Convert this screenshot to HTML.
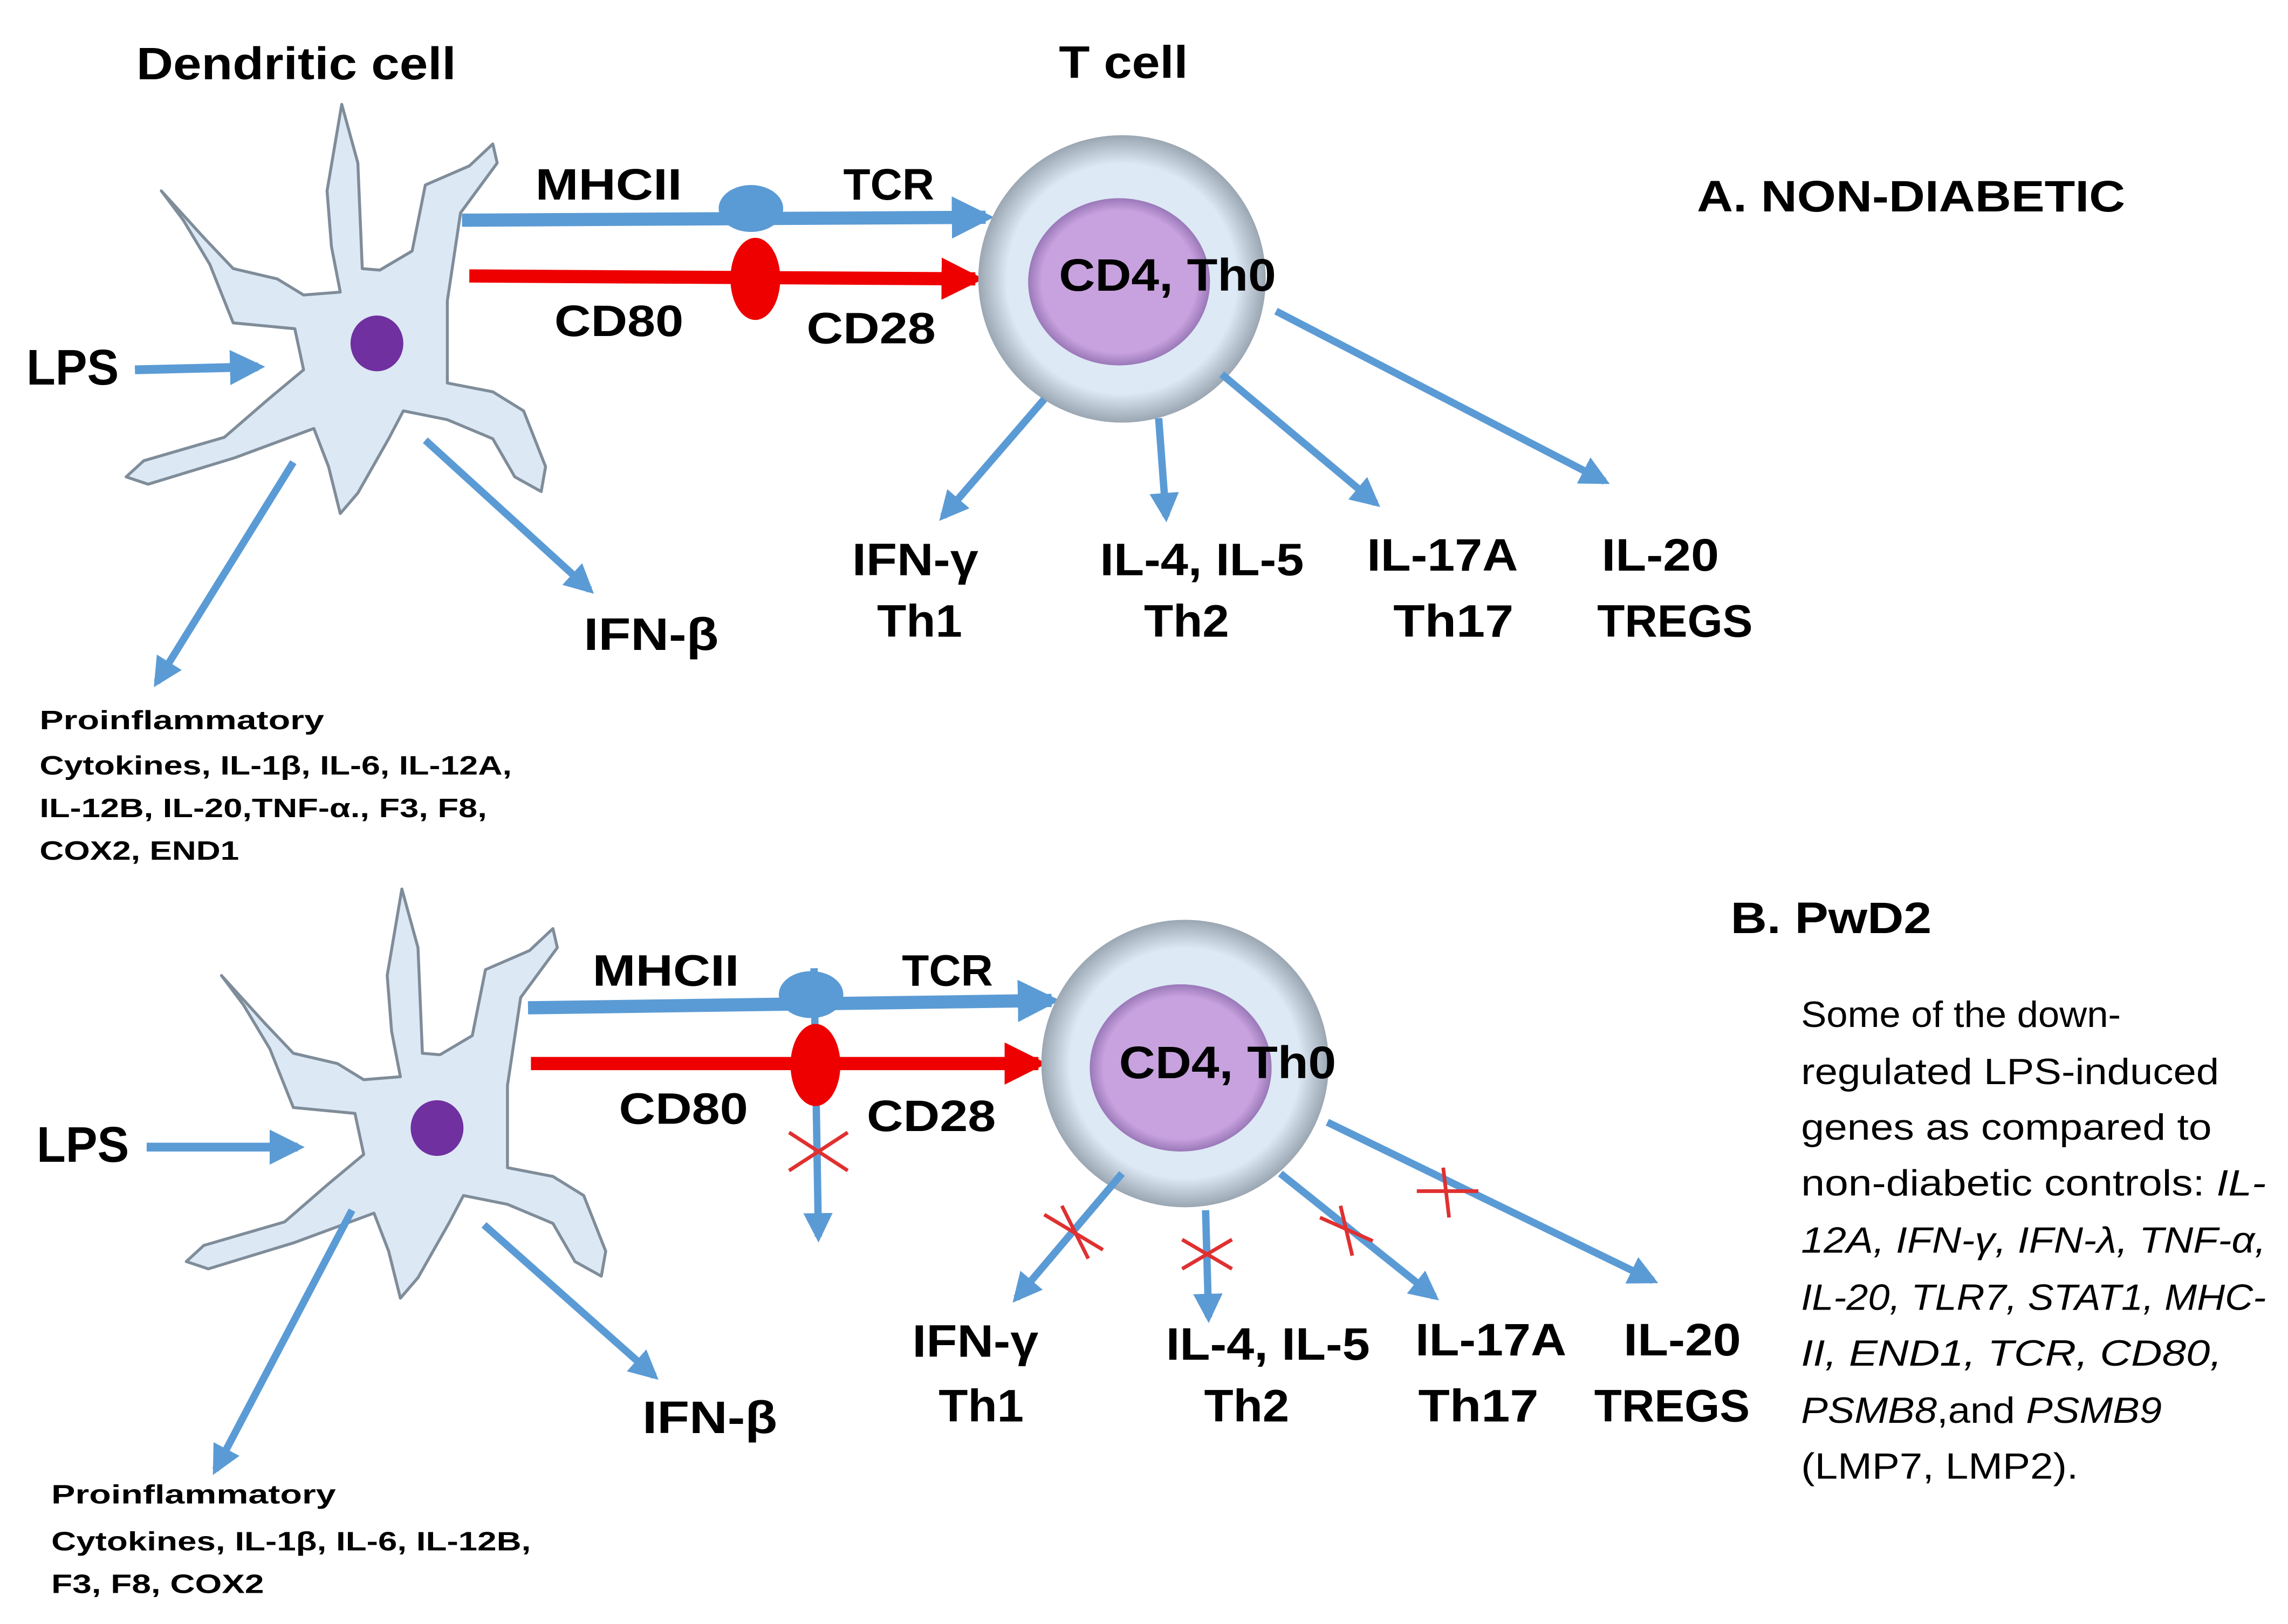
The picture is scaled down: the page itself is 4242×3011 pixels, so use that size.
<!DOCTYPE html>
<html><head><meta charset="utf-8">
<style>
html,body{margin:0;padding:0;background:#fff;}
svg{display:block;}
text{font-family:"Liberation Sans",sans-serif;fill:#000;}
.b{font-weight:bold;}
.p{font-size:25px;}
</style></head>
<body>
<svg width="4242" height="3011" viewBox="0 0 1560 1107" xmlns="http://www.w3.org/2000/svg">
<defs>
<marker id="ab" viewBox="0 0 10 10" refX="8" refY="5" markerWidth="4" markerHeight="4" orient="auto" markerUnits="strokeWidth"><path d="M0,0 L10,5 L0,10 z" fill="#5b9bd5"/></marker>
<marker id="ab2" viewBox="0 0 10 10" refX="8" refY="5" markerWidth="3.2" markerHeight="3.2" orient="auto" markerUnits="strokeWidth"><path d="M0,0 L10,5 L0,10 z" fill="#5b9bd5"/></marker>
<marker id="ar" viewBox="0 0 10 10" refX="8" refY="5" markerWidth="3.2" markerHeight="3.2" orient="auto" markerUnits="strokeWidth"><path d="M0,0 L10,5 L0,10 z" fill="#ee0000"/></marker>
<radialGradient id="cg" cx="0.5" cy="0.5" r="0.5"><stop offset="0.8" stop-color="#dde9f5"/><stop offset="1" stop-color="#9aa6b2"/></radialGradient>
<radialGradient id="ig" cx="0.5" cy="0.5" r="0.5"><stop offset="0.85" stop-color="#c8a2de"/><stop offset="1" stop-color="#9a78b8"/></radialGradient>
<g id="dc">
<path d="M110,130 L140,163 L159,183 L189,190 L207,201 L232,199 L226,168 L223,130 L233,71 L244,111 L247,183 L259,184 L281,171 L290,126 L320,113 L336,98 L339,111 L314,145 L305,205 L305,261 L336,267 L357,280 L372,318 L369,335 L351,325 L336,299 L305,286 L275,280 L265,299 L244,336 L232,350 L224,318 L214,292 L160,312 L101,330 L86,325 L98,314 L153,298 L183,272 L207,252 L201,224 L159,220 L143,180 L125,150 Z" fill="#dce8f4" stroke="#7f8c99" stroke-width="2" stroke-linejoin="round"/>
<ellipse cx="257" cy="234" rx="18" ry="19" fill="#7030a0"/>
</g>
</defs>

<!-- ===== A ===== -->
<text class="b" x="93" y="54" font-size="31" textLength="218" lengthAdjust="spacingAndGlyphs">Dendritic cell</text>
<text class="b" x="722" y="53" font-size="31" textLength="88" lengthAdjust="spacingAndGlyphs">T cell</text>
<text class="b" x="1157" y="144" font-size="30" textLength="292" lengthAdjust="spacingAndGlyphs">A. NON-DIABETIC</text>

<use href="#dc"/>
<text class="b" x="18" y="262" font-size="34" textLength="63" lengthAdjust="spacingAndGlyphs">LPS</text>
<line x1="92" y1="252" x2="176" y2="250" stroke="#5b9bd5" stroke-width="6" marker-end="url(#ab)"/>

<line x1="315" y1="150" x2="672" y2="148" stroke="#5b9bd5" stroke-width="9" marker-end="url(#ab2)"/>
<line x1="320" y1="188" x2="665" y2="190" stroke="#ee0000" stroke-width="9" marker-end="url(#ar)"/>
<ellipse cx="512" cy="142" rx="22" ry="16" fill="#5b9bd5"/>
<ellipse cx="515" cy="190" rx="17" ry="28" fill="#ee0000"/>
<text class="b" x="365" y="136" font-size="30" textLength="100" lengthAdjust="spacingAndGlyphs">MHCII</text>
<text class="b" x="575" y="136" font-size="30" textLength="62" lengthAdjust="spacingAndGlyphs">TCR</text>
<text class="b" x="378" y="229" font-size="30" textLength="88" lengthAdjust="spacingAndGlyphs">CD80</text>
<text class="b" x="550" y="234" font-size="30" textLength="88" lengthAdjust="spacingAndGlyphs">CD28</text>

<circle cx="765" cy="190" r="98" fill="url(#cg)"/>
<ellipse cx="763" cy="192" rx="62" ry="57" fill="url(#ig)"/>
<text class="b" x="722" y="198" font-size="31" textLength="148" lengthAdjust="spacingAndGlyphs">CD4, Th0</text>

<line x1="712" y1="272" x2="643" y2="352" stroke="#5b9bd5" stroke-width="5" marker-end="url(#ab)"/>
<line x1="790" y1="285" x2="795" y2="352" stroke="#5b9bd5" stroke-width="5" marker-end="url(#ab)"/>
<line x1="833" y1="255" x2="938" y2="343" stroke="#5b9bd5" stroke-width="5" marker-end="url(#ab)"/>
<line x1="870" y1="212" x2="1094" y2="328" stroke="#5b9bd5" stroke-width="5" marker-end="url(#ab)"/>

<text class="b" x="581" y="392" font-size="31" textLength="86" lengthAdjust="spacingAndGlyphs">IFN-γ</text>
<text class="b" x="598" y="434" font-size="31" textLength="58" lengthAdjust="spacingAndGlyphs">Th1</text>
<text class="b" x="750" y="392" font-size="31" textLength="139" lengthAdjust="spacingAndGlyphs">IL-4, IL-5</text>
<text class="b" x="780" y="434" font-size="31" textLength="58" lengthAdjust="spacingAndGlyphs">Th2</text>
<text class="b" x="932" y="389" font-size="31" textLength="103" lengthAdjust="spacingAndGlyphs">IL-17A</text>
<text class="b" x="950" y="434" font-size="31" textLength="82" lengthAdjust="spacingAndGlyphs">Th17</text>
<text class="b" x="1092" y="389" font-size="31" textLength="80" lengthAdjust="spacingAndGlyphs">IL-20</text>
<text class="b" x="1089" y="434" font-size="31" textLength="106" lengthAdjust="spacingAndGlyphs">TREGS</text>

<line x1="290" y1="300" x2="402" y2="402" stroke="#5b9bd5" stroke-width="5" marker-end="url(#ab)"/>
<text class="b" x="398" y="443" font-size="31" textLength="92" lengthAdjust="spacingAndGlyphs">IFN-β</text>
<line x1="200" y1="315" x2="107" y2="465" stroke="#5b9bd5" stroke-width="5" marker-end="url(#ab)"/>

<text class="b" x="27" y="497" font-size="18" textLength="194" lengthAdjust="spacingAndGlyphs">Proinflammatory</text>
<text class="b" x="27" y="528" font-size="18" textLength="322" lengthAdjust="spacingAndGlyphs">Cytokines, IL-1β, IL-6, IL-12A,</text>
<text class="b" x="27" y="557" font-size="18" textLength="305" lengthAdjust="spacingAndGlyphs">IL-12B, IL-20,TNF-α., F3, F8,</text>
<text class="b" x="27" y="586" font-size="18" textLength="136" lengthAdjust="spacingAndGlyphs">COX2, END1</text>

<!-- ===== B ===== -->
<text class="b" x="1180" y="636" font-size="30" textLength="137" lengthAdjust="spacingAndGlyphs">B. PwD2</text>

<use href="#dc" transform="translate(41,535)"/>
<text class="b" x="25" y="792" font-size="34" textLength="63" lengthAdjust="spacingAndGlyphs">LPS</text>
<line x1="100" y1="782" x2="203" y2="782" stroke="#5b9bd5" stroke-width="6" marker-end="url(#ab)"/>

<line x1="360" y1="687" x2="717" y2="682" stroke="#5b9bd5" stroke-width="9" marker-end="url(#ab2)"/>
<line x1="362" y1="725" x2="708" y2="725" stroke="#ee0000" stroke-width="9" marker-end="url(#ar)"/>
<line x1="555" y1="660" x2="558" y2="843" stroke="#5b9bd5" stroke-width="5" marker-end="url(#ab)"/>
<ellipse cx="553" cy="678" rx="22" ry="16" fill="#5b9bd5"/>
<ellipse cx="556" cy="726" rx="17" ry="28" fill="#ee0000"/>
<g stroke="#e03030" stroke-width="2.5"><line x1="538" y1="772" x2="578" y2="798"/><line x1="538" y1="798" x2="578" y2="772"/></g>
<text class="b" x="404" y="672" font-size="30" textLength="100" lengthAdjust="spacingAndGlyphs">MHCII</text>
<text class="b" x="615" y="672" font-size="30" textLength="62" lengthAdjust="spacingAndGlyphs">TCR</text>
<text class="b" x="422" y="766" font-size="30" textLength="88" lengthAdjust="spacingAndGlyphs">CD80</text>
<text class="b" x="591" y="771" font-size="30" textLength="88" lengthAdjust="spacingAndGlyphs">CD28</text>

<circle cx="808" cy="725" r="98" fill="url(#cg)"/>
<ellipse cx="805" cy="728" rx="62" ry="57" fill="url(#ig)"/>
<text class="b" x="763" y="735" font-size="31" textLength="148" lengthAdjust="spacingAndGlyphs">CD4, Th0</text>

<line x1="765" y1="800" x2="693" y2="885" stroke="#5b9bd5" stroke-width="5" marker-end="url(#ab)"/>
<line x1="822" y1="825" x2="824" y2="898" stroke="#5b9bd5" stroke-width="5" marker-end="url(#ab)"/>
<line x1="873" y1="800" x2="978" y2="884" stroke="#5b9bd5" stroke-width="5" marker-end="url(#ab)"/>
<line x1="905" y1="765" x2="1127" y2="873" stroke="#5b9bd5" stroke-width="5" marker-end="url(#ab)"/>
<g stroke="#e03030" stroke-width="2.5" fill="none">
<line x1="712" y1="828" x2="752" y2="852"/><line x1="724" y1="822" x2="742" y2="858"/>
<line x1="806" y1="845" x2="840" y2="865"/><line x1="806" y1="865" x2="840" y2="845"/>
<line x1="900" y1="830" x2="936" y2="846"/><line x1="914" y1="822" x2="922" y2="856"/>
<line x1="966" y1="812" x2="1008" y2="812"/><line x1="984" y1="796" x2="988" y2="830"/>
</g>

<text class="b" x="622" y="925" font-size="31" textLength="86" lengthAdjust="spacingAndGlyphs">IFN-γ</text>
<text class="b" x="640" y="969" font-size="31" textLength="58" lengthAdjust="spacingAndGlyphs">Th1</text>
<text class="b" x="795" y="927" font-size="31" textLength="139" lengthAdjust="spacingAndGlyphs">IL-4, IL-5</text>
<text class="b" x="821" y="969" font-size="31" textLength="58" lengthAdjust="spacingAndGlyphs">Th2</text>
<text class="b" x="965" y="924" font-size="31" textLength="103" lengthAdjust="spacingAndGlyphs">IL-17A</text>
<text class="b" x="967" y="969" font-size="31" textLength="82" lengthAdjust="spacingAndGlyphs">Th17</text>
<text class="b" x="1107" y="924" font-size="31" textLength="80" lengthAdjust="spacingAndGlyphs">IL-20</text>
<text class="b" x="1087" y="969" font-size="31" textLength="106" lengthAdjust="spacingAndGlyphs">TREGS</text>

<line x1="330" y1="835" x2="446" y2="938" stroke="#5b9bd5" stroke-width="5" marker-end="url(#ab)"/>
<text class="b" x="438" y="977" font-size="31" textLength="92" lengthAdjust="spacingAndGlyphs">IFN-β</text>
<line x1="240" y1="825" x2="147" y2="1002" stroke="#5b9bd5" stroke-width="5" marker-end="url(#ab)"/>

<text class="b" x="35" y="1025" font-size="18" textLength="194" lengthAdjust="spacingAndGlyphs">Proinflammatory</text>
<text class="b" x="35" y="1057" font-size="18" textLength="327" lengthAdjust="spacingAndGlyphs">Cytokines, IL-1β, IL-6, IL-12B,</text>
<text class="b" x="35" y="1086" font-size="18" textLength="145" lengthAdjust="spacingAndGlyphs">F3, F8, COX2</text>

<g class="p">
<text x="1228" y="700" font-size="25" textLength="218" lengthAdjust="spacingAndGlyphs">Some of the down-</text>
<text x="1228" y="739" font-size="25" textLength="285" lengthAdjust="spacingAndGlyphs">regulated LPS-induced</text>
<text x="1228" y="777" font-size="25" textLength="280" lengthAdjust="spacingAndGlyphs">genes as compared to</text>
<text x="1228" y="815" font-size="25" textLength="317" lengthAdjust="spacingAndGlyphs">non-diabetic controls: <tspan font-style="italic">IL-</tspan></text>
<text x="1228" y="854" font-size="25" font-style="italic" textLength="317" lengthAdjust="spacingAndGlyphs">12A, IFN-γ, IFN-λ, TNF-α,</text>
<text x="1228" y="893" font-size="25" font-style="italic" textLength="317" lengthAdjust="spacingAndGlyphs">IL-20, TLR7, STAT1, MHC-</text>
<text x="1228" y="931" font-size="25" font-style="italic" textLength="287" lengthAdjust="spacingAndGlyphs">II, END1, TCR, CD80,</text>
<text x="1228" y="970" font-size="25" textLength="246" lengthAdjust="spacingAndGlyphs"><tspan font-style="italic">PSMB8</tspan>,and <tspan font-style="italic">PSMB9</tspan></text>
<text x="1228" y="1008" font-size="25" textLength="189" lengthAdjust="spacingAndGlyphs">(LMP7, LMP2).</text>
</g>
</svg>
</body></html>
